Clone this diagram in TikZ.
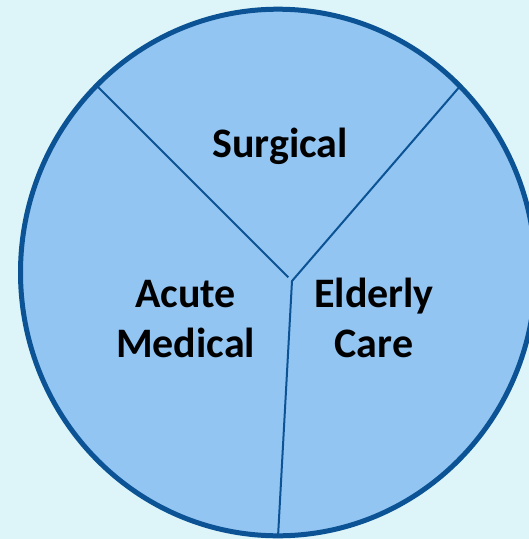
\documentclass[tikz,border=0pt]{standalone}
\usepackage{fontspec}
\setmainfont{Carlito}
\usetikzlibrary{positioning}
\definecolor{wdBack}{HTML}{DDF5F8}
\definecolor{wdFill}{HTML}{93C5F3}
\definecolor{wdEdge}{HTML}{0B5394}
\tikzset{
  wardlabel/.style={
    font=\fontsize{42}{50}\selectfont\bfseries, align=center, inner sep=0pt
  },
  wardfill/.style={fill=wdFill},
  wardrim/.style={draw=wdEdge, line width=5pt},
  divider/.style={draw=wdEdge, line width=2pt}
}
\begin{document}
\begin{tikzpicture}[x=1pt, y=-1pt]
  \useasboundingbox (0,0) rectangle (529,539);
  \fill[wdBack] (0,0) rectangle (529,539);
  \begin{scope}
    \clip (0,0) rectangle (529,539);
    \coordinate (mid) at (278,272.5);
    \path[wardfill] (mid) ellipse [x radius=257.5, y radius=263.3];
    % the three ward dividers
    \coordinate (hub) at (292,281);
    \coordinate (hubL) at (288.3,277.3);
    \coordinate (rimL) at (96,85);
    \coordinate (rimR) at (459.5,86.8);
    \coordinate (rimB) at (278,537);
    \draw[divider] (rimL) -- (hubL);
    \draw[divider] (rimR) -- (hub) -- (rimB);
    \path[wardrim] (mid) ellipse [x radius=257.5, y radius=263.3];
  \end{scope}
  % base anchor sits on the last line
  \node[wardlabel, anchor=base] (surgical) at (280,157) {Surgical};
  \node[wardlabel, anchor=base] (acute) at (185.6,357.6) {Acute\\Medical};
  \node[wardlabel, anchor=base] (elderly) at (374,357.6) {Elderly\\Care};
\end{tikzpicture}
\end{document}
